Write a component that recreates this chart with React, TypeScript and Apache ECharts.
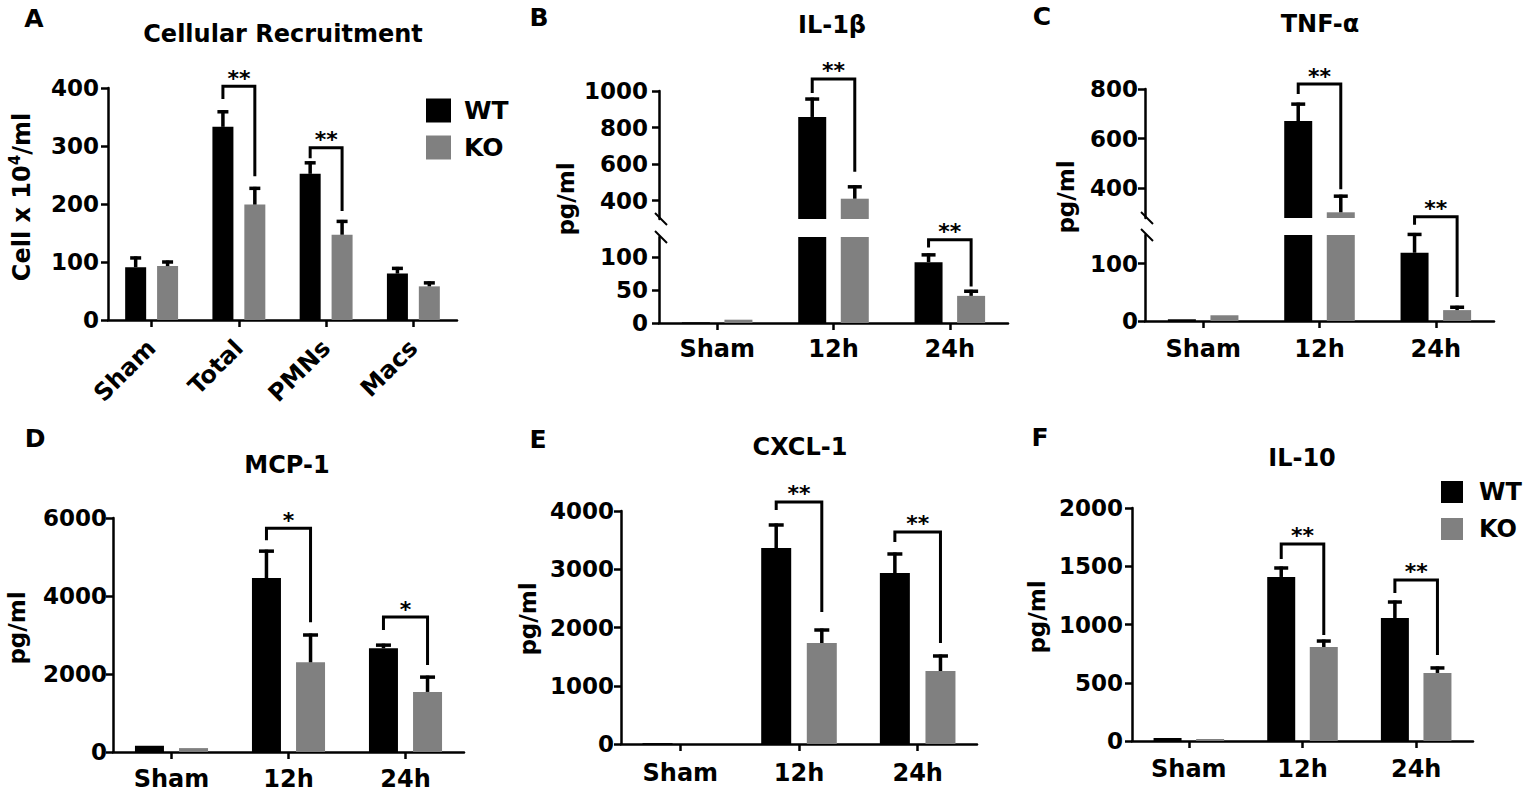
import React, { useEffect, useRef } from "react";
import * as echarts from "echarts";

const FONT = "DejaVu Sans";
const WT_COLOR = "#000000";
const KO_COLOR = "#808080";
const seriesNames = ["WT", "KO"];

// ---------- Panel A: Cellular Recruitment ----------
const cellCategories = ["Sham", "Total", "PMNs", "Macs"];
const cellWT = [91, 333, 252, 80];
const cellWTSem = [16, 26, 19, 9];
const cellKO = [93, 199, 147, 58];
const cellKOSem = [7, 28, 23, 6];
const cellTicks = [0, 100, 200, 300, 400];
// [categoryIndex, leftFoot, top, rightFoot, label]
const cellBrackets: any[] = [
  [1, 381, 403, 248, "**"],
  [2, 279, 297, 188, "**"],
];

// ---------- shared categories ----------
const timeCategories = ["Sham", "12h", "24h"];

// ---------- Panel B: IL-1β ----------
const il1bWT = [1, 858, 92];
const il1bWTSem = [0, 98, 11];
const il1bKO = [5, 411, 41];
const il1bKOSem = [0, 65, 7];
const il1bUpperTicks = [400, 600, 800, 1000];
const il1bLowerTicks = [0, 50, 100];
const il1bBrackets: any[] = [
  [1, 989, 1066, 558, "**"],
  [2, 114, 126, 55, "**"],
];

// ---------- Panel C: TNF-α ----------
const tnfWT = [3, 671, 119];
const tnfWTSem = [0, 68, 32];
const tnfKO = [10, 303, 19];
const tnfKOSem = [0, 65, 5];
const tnfUpperTicks = [400, 600, 800];
const tnfLowerTicks = [0, 100];
const tnfBrackets: any[] = [
  [1, 780, 820, 396, "**"],
  [2, 168, 182, 42, "**"],
];

// ---------- Panel D: MCP-1 ----------
const mcpWT = [160, 4460, 2660];
const mcpWTSem = [0, 690, 80];
const mcpKO = [100, 2300, 1540];
const mcpKOSem = [0, 700, 380];
const mcpTicks = [0, 2000, 4000, 6000];
const mcpBrackets: any[] = [
  [1, 5430, 5740, 3330, "*"],
  [2, 3130, 3460, 2230, "*"],
];

// ---------- Panel E: CXCL-1 ----------
const cxclWT = [15, 3365, 2935];
const cxclWTSem = [0, 395, 327];
const cxclKO = [0, 1734, 1253];
const cxclKOSem = [0, 223, 258];
const cxclTicks = [0, 1000, 2000, 3000, 4000];
const cxclBrackets: any[] = [
  [1, 4017, 4155, 2266, "**"],
  [2, 3468, 3640, 1734, "**"],
];

// ---------- Panel F: IL-10 ----------
const il10WT = [26, 1408, 1056];
const il10WTSem = [0, 77, 137];
const il10KO = [17, 807, 584];
const il10KOSem = [0, 51, 43];
const il10Ticks = [0, 500, 1000, 1500, 2000];
const il10Brackets: any[] = [
  [1, 1562, 1691, 910, "**"],
  [2, 1270, 1382, 738, "**"],
];

const panelLetters = ["A", "B", "C", "D", "E", "F"];
const panelTitles = ["Cellular Recruitment", "IL-1β", "TNF-α", "MCP-1", "CXCL-1", "IL-10"];
const yAxisNames = ["Cell x 10{sup|4}/ml", "pg/ml", "pg/ml", "pg/ml", "pg/ml", "pg/ml"];

// ---------- layout (positions / styles only) ----------
const BAR_GAP = 0.52;
const layout = [
  {
    letter: [34, 18], title: [283, 34], yName: [22, 197], barWidth: 21, cap: 5.5, labelMargin: 9, rotate: 45, xMargin: 24,
    parts: [{ left: 108, top: 88, width: 349, height: 232, min: 0, max: 400 }],
  },
  {
    letter: [539, 17], title: [832, 25], yName: [566, 199], barWidth: 28, cap: 7, labelMargin: 11, rotate: 0, xMargin: 14,
    parts: [
      { left: 659, top: 91, width: 349, height: 128, min: 300, max: 1000 },
      { left: 659, top: 237, width: 349, height: 86, min: 0, max: 130 },
    ],
  },
  {
    letter: [1042, 16], title: [1320, 24], yName: [1066, 197], barWidth: 28, cap: 7, labelMargin: 7, rotate: 0, xMargin: 16,
    parts: [
      { left: 1145, top: 89, width: 349, height: 129, min: 280, max: 800 },
      { left: 1145, top: 235, width: 349, height: 86, min: 0, max: 150 },
    ],
  },
  {
    letter: [35, 438], title: [287, 465], yName: [17, 628], barWidth: 29, cap: 7.5, labelMargin: 6, rotate: 0, xMargin: 15,
    parts: [{ left: 113, top: 518, width: 351, height: 234, min: 0, max: 6000 }],
  },
  {
    letter: [538, 439], title: [800, 447], yName: [528, 619], barWidth: 30, cap: 7.5, labelMargin: 7, rotate: 0, xMargin: 17,
    parts: [{ left: 621, top: 511, width: 356, height: 233, min: 0, max: 4000 }],
  },
  {
    letter: [1040, 437], title: [1302, 458], yName: [1037, 617], barWidth: 28, cap: 7, labelMargin: 9, rotate: 0, xMargin: 16,
    parts: [{ left: 1132, top: 508, width: 341, height: 233, min: 0, max: 2000 }],
  },
];

const panelData = [
  { cats: cellCategories, wt: cellWT, wtSem: cellWTSem, ko: cellKO, koSem: cellKOSem, brackets: cellBrackets, ticks: [cellTicks] },
  { cats: timeCategories, wt: il1bWT, wtSem: il1bWTSem, ko: il1bKO, koSem: il1bKOSem, brackets: il1bBrackets, ticks: [il1bUpperTicks, il1bLowerTicks] },
  { cats: timeCategories, wt: tnfWT, wtSem: tnfWTSem, ko: tnfKO, koSem: tnfKOSem, brackets: tnfBrackets, ticks: [tnfUpperTicks, tnfLowerTicks] },
  { cats: timeCategories, wt: mcpWT, wtSem: mcpWTSem, ko: mcpKO, koSem: mcpKOSem, brackets: mcpBrackets, ticks: [mcpTicks] },
  { cats: timeCategories, wt: cxclWT, wtSem: cxclWTSem, ko: cxclKO, koSem: cxclKOSem, brackets: cxclBrackets, ticks: [cxclTicks] },
  { cats: timeCategories, wt: il10WT, wtSem: il10WTSem, ko: il10KO, koSem: il10KOSem, brackets: il10Brackets, ticks: [il10Ticks] },
];

function buildOption() {
  const grid: any[] = [];
  const xAxis: any[] = [];
  const yAxis: any[] = [];
  const series: any[] = [];
  const graphic: any[] = [];
  let k = 0;

  panelData.forEach((pd, idx) => {
    const lay = layout[idx];
    const off = (lay.barWidth * (1 + BAR_GAP)) / 2;
    const broken = lay.parts.length > 1;
    const upperMin = broken ? lay.parts[0].min : -Infinity;

    lay.parts.forEach((part, pi) => {
      const isUpper = broken && pi === 0;
      const isBottom = pi === lay.parts.length - 1;
      const inPart = (v: number) => !broken || (isUpper ? v >= upperMin : v < upperMin);
      const ticks = pd.ticks[pi];

      grid.push({ left: part.left, top: part.top, width: part.width, height: part.height, containLabel: false, outerBoundsMode: "none" });
      xAxis.push({
        type: "category",
        gridIndex: k,
        data: pd.cats,
        show: isBottom,
        axisLine: { show: true, onZero: false, lineStyle: { color: "#000", width: 2.5 } },
        axisTick: { show: true, alignWithLabel: true, length: 7, lineStyle: { color: "#000", width: 2.5 } },
        axisLabel: {
          show: true,
          interval: 0,
          rotate: lay.rotate,
          margin: lay.xMargin,
          fontSize: 24,
          fontWeight: "bold",
          fontFamily: FONT,
          color: "#000",
        },
        splitLine: { show: false },
      });
      yAxis.push({
        type: "value",
        gridIndex: k,
        min: part.min,
        max: part.max,
        axisLine: { show: true, lineStyle: { color: "#000", width: 2.5 } },
        axisTick: { show: true, length: 7, lineStyle: { color: "#000", width: 2.5 }, customValues: ticks },
        axisLabel: {
          customValues: ticks,
          formatter: (v: number) => String(v),
          fontSize: 23,
          fontWeight: "bold",
          fontFamily: FONT,
          color: "#000",
          margin: lay.labelMargin,
        },
        splitLine: { show: false },
      });

      const groups: [number[], number[], string, string, number][] = [
        [pd.wt, pd.wtSem, WT_COLOR, seriesNames[0], -1],
        [pd.ko, pd.koSem, KO_COLOR, seriesNames[1], 1],
      ];
      groups.forEach(([vals, sems, color, name]) => {
        series.push({
          type: "bar",
          name,
          xAxisIndex: k,
          yAxisIndex: k,
          data: vals.map((v) => (isUpper && v < upperMin ? "-" : v)),
          barWidth: lay.barWidth,
          barGap: `${BAR_GAP * 100}%`,
          itemStyle: { color },
          silent: true,
          legendHoverLink: false,
          z: 2,
        });
      });
      groups.forEach(([vals, sems, color, name, sign]) => {
        const errData = vals
          .map((v, i) => [i, v, v + sems[i]])
          .filter((d) => d[2] > d[1] && inPart(d[1]));
        series.push({
          type: "custom",
          name: name + " SEM",
          xAxisIndex: k,
          yAxisIndex: k,
          data: errData,
          encode: { x: 0, y: [1, 2] },
          silent: true,
          z: 3,
          renderItem: (params: any, api: any) => {
            const c = api.value(0);
            const p0 = api.coord([c, api.value(1)]);
            const p1 = api.coord([c, api.value(2)]);
            const x = p0[0] + sign * off;
            const st = { stroke: "#000", lineWidth: 3.5 };
            return {
              type: "group",
              children: [
                { type: "line", shape: { x1: x, y1: p0[1], x2: x, y2: p1[1] - 1.5 }, style: st },
                { type: "line", shape: { x1: x - lay.cap, y1: p1[1], x2: x + lay.cap, y2: p1[1] }, style: st },
              ],
            };
          },
        });
      });

      const br = pd.brackets.filter((d: any[]) => inPart(Math.min(d[1], d[3])));
      series.push({
        type: "custom",
        name: "significance",
        xAxisIndex: k,
        yAxisIndex: k,
        data: br.map((d: any[]) => [d[0], d[1], d[2], d[3]]),
        encode: { x: 0, y: [1, 2, 3] },
        silent: true,
        z: 4,
        renderItem: (params: any, api: any) => {
          const d = br[params.dataIndex];
          const c = api.value(0);
          const pl = api.coord([c, api.value(1)]);
          const pt = api.coord([c, api.value(2)]);
          const pr = api.coord([c, api.value(3)]);
          const xl = pl[0] - off;
          const xr = pl[0] + off;
          return {
            type: "group",
            children: [
              {
                type: "polyline",
                shape: { points: [[xl, pl[1]], [xl, pt[1]], [xr, pt[1]], [xr, pr[1]]] },
                style: { stroke: "#000", lineWidth: 3, fill: "none", lineJoin: "miter" },
              },
              {
                type: "text",
                x: (xl + xr) / 2,
                y: pt[1] - 8,
                style: {
                  text: d[4],
                  fill: "#000",
                  fontSize: 22,
                  fontWeight: "bold",
                  fontFamily: FONT,
                  align: "center",
                  verticalAlign: "middle",
                },
              },
            ],
          };
        },
      });
      k++;
    });

    // text decorations
    graphic.push({
      type: "text",
      x: lay.letter[0],
      y: lay.letter[1],
      style: { text: panelLetters[idx], fill: "#000", fontSize: 25, fontWeight: "bold", fontFamily: FONT, align: "center", verticalAlign: "middle" },
    });
    graphic.push({
      type: "text",
      x: lay.title[0],
      y: lay.title[1],
      style: { text: panelTitles[idx], fill: "#000", fontSize: 24, fontWeight: "bold", fontFamily: FONT, align: "center", verticalAlign: "middle" },
    });
    graphic.push({
      type: "text",
      x: lay.yName[0],
      y: lay.yName[1],
      rotation: Math.PI / 2,
      style: {
        text: yAxisNames[idx],
        fill: "#000",
        fontSize: idx === 0 ? 24 : 23,
        fontWeight: "bold",
        fontFamily: FONT,
        align: "center",
        verticalAlign: "middle",
        lineHeight: 30,
        rich: {
          sup: { fontSize: 15, fontWeight: "bold", fontFamily: FONT, fill: "#000", verticalAlign: "top", lineHeight: 15 },
        },
      },
    });
    if (broken) {
      const up = lay.parts[0];
      const lo = lay.parts[1];
      const ax = up.left + 2;
      [up.top + up.height, lo.top].forEach((yy) => {
        graphic.push({
          type: "line",
          shape: { x1: ax - 6, y1: yy - 6, x2: ax + 6, y2: yy + 6 },
          style: { stroke: "#000", lineWidth: 2 },
        });
      });
    }
  });

  const legendBase = {
    data: seriesNames,
    orient: "vertical",
    padding: 0,
    icon: "rect",
    selectedMode: false,
  };

  return {
    animation: false,
    backgroundColor: "#ffffff",
    textStyle: { fontFamily: FONT, fontWeight: "bold", color: "#000" },
    grid,
    xAxis,
    yAxis,
    series,
    legend: [
      {
        ...legendBase,
        left: 426,
        top: 98,
        itemWidth: 25,
        itemHeight: 24,
        itemGap: 12,
        textStyle: { fontSize: 25, fontWeight: "bold", fontFamily: FONT, color: "#000", padding: [0, 0, 0, 8] },
      },
      {
        ...legendBase,
        left: 1441,
        top: 480,
        itemWidth: 22,
        itemHeight: 22,
        itemGap: 13,
        textStyle: { fontSize: 24, fontWeight: "bold", fontFamily: FONT, color: "#000", padding: [0, 0, 0, 11] },
      },
    ],
    graphic: { elements: graphic },
  };
}

export default function App() {
  const ref = useRef<HTMLDivElement>(null);
  useEffect(() => {
    if (!ref.current) return;
    const chart = echarts.init(ref.current, null, { renderer: "svg" });
    chart.setOption(buildOption() as any);
    return () => chart.dispose();
  }, []);
  return (
    <div
      ref={ref}
      style={{ position: "absolute", left: 0, top: 0, width: 1535, height: 792, background: "#fff" }}
    />
  );
}
